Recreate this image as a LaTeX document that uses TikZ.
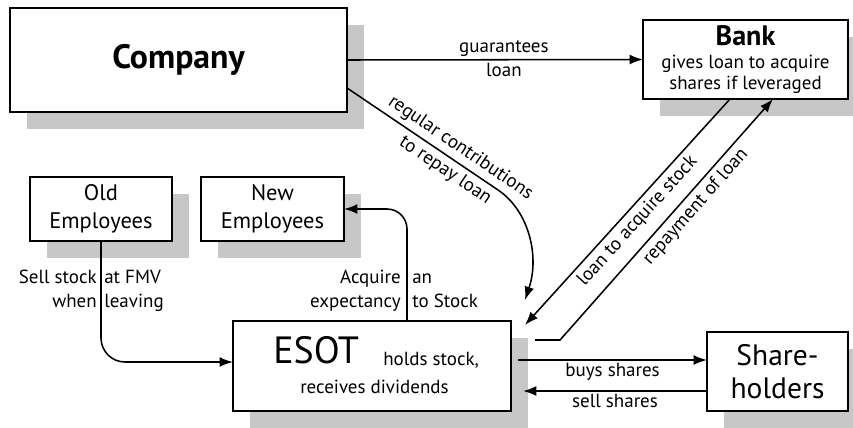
\documentclass[tikz,border=0pt]{standalone}
\usepackage{fontspec}
\setmainfont{PT Sans}
\usetikzlibrary{arrows.meta, shadows, calc}

\tikzset{
	box/.style={draw, line width=0.9pt, fill=white, inner sep=0pt, outer sep=0pt, align=center,
		drop shadow={shadow xshift=0.425cm, shadow yshift=-0.425cm, fill=black!22, opacity=1}},
	arr/.style={line width=1.1pt, -{Latex[length=9.5pt, width=7pt]}},
	lbl/.style={font=\fontsize{13.5}{16}\selectfont, inner sep=2pt},
	slbl/.style={lbl, sloped, inner sep=3pt},
	splitl/.style={lbl, anchor=base east, inner sep=0pt},
	splitr/.style={lbl, anchor=base west, inner sep=0pt},
}

\begin{document}
\begin{tikzpicture}[x=0.025cm, y=-0.025cm]
	\useasboundingbox (0,0) rectangle (853,427);

	% boxes
	\node[box, minimum width=8.425cm, minimum height=2.6cm, font=\fontsize{24}{30}\selectfont\bfseries] (company) at (178.5,60) {Company};
	\node[box, minimum width=5.125cm, minimum height=1.975cm, font=\fontsize{13.5}{15}\selectfont] (bank) at (745.5,59.5)
		{{\fontsize{20}{22}\selectfont\bfseries Bank}\\[1pt] gives loan to acquire\\ shares if leveraged};
	\node[box, minimum width=3.55cm, minimum height=1.6cm, font=\fontsize{16}{20}\selectfont] (old) at (101,209) {Old\\Employees};
	\node[box, minimum width=3.575cm, minimum height=1.6cm, font=\fontsize{16}{20}\selectfont] (new) at (272.5,209) {New\\Employees};
	\node[box, minimum width=6.95cm, minimum height=2.25cm] (esot) at (372,366) {};
	\node[box, minimum width=3.525cm, minimum height=1.975cm, font=\fontsize{21}{23}\selectfont] (share) at (777.5,371.5) {Share-\\holders};

	\node[font=\fontsize{27}{30}\selectfont, anchor=base west, inner sep=0pt] (esottitle) at (273,363) {ESOT};
	\node[splitr] (holds) at (383,365) {holds stock,};
	\node[splitr] (receives) at (300,393) {receives dividends};

	\coordinate (contrib) at (525,300);
	\coordinate (loanend) at (525,325);

	% connectors
	\draw[arr] (company.east) -- (bank.west)
		node[lbl, pos=0.53, above] {guarantees}
		node[lbl, pos=0.53, below] {loan};
	\draw[arr] ([yshift=-0.7cm]company.east) -- ++(151,102)
		node[slbl, pos=0.7, above] {regular contributions}
		node[slbl, pos=0.7, below] {to repay loan}
		.. controls +(30,20) and +(15,-45) .. (contrib);
	\draw[arr] ([xshift=-0.3875cm]bank.south) -- (loanend)
		node[slbl, midway, below] {loan to acquire stock};
	\draw[arr] ([xshift=0.6cm, yshift=-0.475cm]esot.north east) -- ++(25,0) -- ([xshift=0.6875cm]bank.south)
		node[slbl, pos=0.59, below] {repayment of loan};
	\draw[arr] ([xshift=0.175cm, yshift=0.15cm]esot.east) coordinate (b0) -- (b0 -| share.west)
		node[lbl, midway, below] {buys shares};
	\draw[arr] ([yshift=-0.4875cm]share.west) coordinate (s0) -- ($(s0 -| esot.east)+(12,0)$)
		node[lbl, midway, below] {sell shares};
	\draw[arr, rounded corners=0.6cm] (old.south) |- ([yshift=0.1cm]esot.west);
	\draw[arr, rounded corners=0.5cm] ([xshift=0.875cm]esot.north) |- (new.east);

	% split labels
	\node[splitl] (sell) at (97,283) {Sell stock};
	\node[splitr] (fmv) at (104,283) {at FMV};
	\node[splitl] (when) at (97,307) {when};
	\node[splitr] (leaving) at (104,307) {leaving};
	\node[splitl] (acquire) at (401,283) {Acquire};
	\node[splitr] (an) at (412,283) {an};
	\node[splitl] (expect) at (401,307) {expectancy};
	\node[splitr] (tostock) at (412,307) {to Stock};
\end{tikzpicture}
\end{document}
